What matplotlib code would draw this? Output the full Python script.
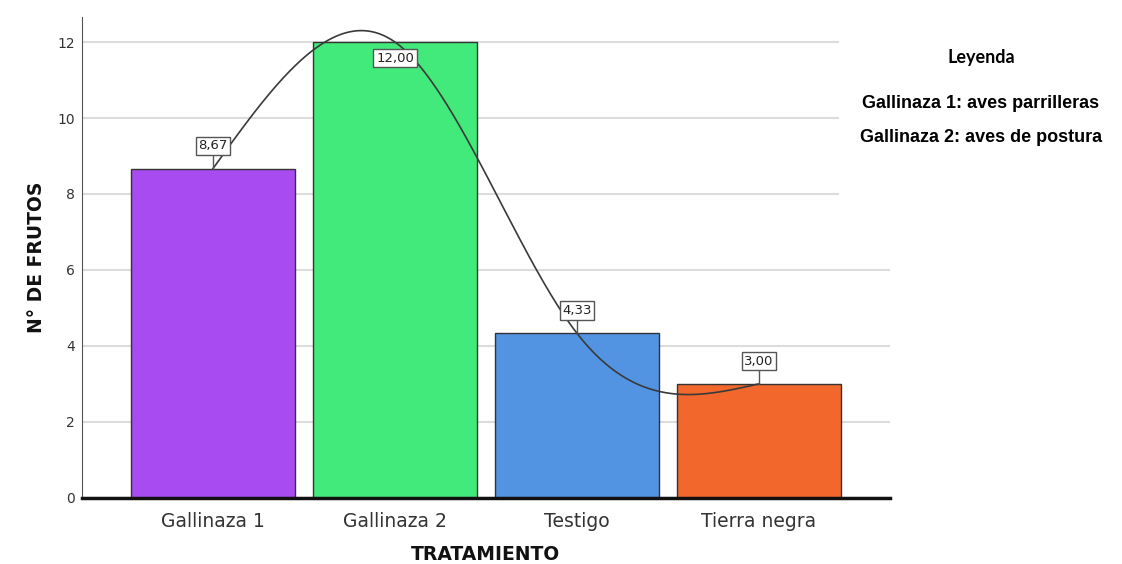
import matplotlib
matplotlib.use('Agg')
import matplotlib.pyplot as plt
from matplotlib.patches import Rectangle
import numpy as np

# ---- data ----
categories = ['Gallinaza 1', 'Gallinaza 2', 'Testigo', 'Tierra negra']
frutos     = [8.67, 12.00, 4.33, 3.00]
bar_colors = ['#A84BF0', '#42EA7C', '#5294E2', '#F2682C']
y_ticks    = [0, 2, 4, 6, 8, 10, 12]
legend_lines = ['Gallinaza 1: aves parrilleras', 'Gallinaza 2: aves de postura']


def natural_spline(x, y, n=300):
    """Natural cubic spline through (x, y), equally spaced x."""
    x = np.asarray(x, float); y = np.asarray(y, float)
    h = x[1] - x[0]
    k = len(x)
    A = np.zeros((k, k)); b = np.zeros(k)
    A[0, 0] = A[-1, -1] = 1
    for i in range(1, k - 1):
        A[i, i - 1:i + 2] = [1, 4, 1]
        b[i] = 6 * (y[i - 1] - 2 * y[i] + y[i + 1]) / h**2
    M = np.linalg.solve(A, b)
    xs = np.linspace(x[0], x[-1], n)
    idx = np.clip(((xs - x[0]) // h).astype(int), 0, k - 2)
    t = (xs - x[idx]) / h
    ys = ((1 - t) * y[idx] + t * y[idx + 1]
          + ((1 - t)**3 - (1 - t)) * M[idx] * h**2 / 6
          + (t**3 - t) * M[idx + 1] * h**2 / 6)
    return xs, ys


fig = plt.figure(figsize=(11.22, 5.64), dpi=100)
ax = fig.add_axes([0.0731, 0.1175, 0.7201, 0.853])

x = np.arange(len(categories))
ax.bar(x, frutos, width=0.9, color=bar_colors, edgecolor='#333333', lw=1.0, zorder=2)

xs, ys = natural_spline(x, frutos)
ax.plot(xs, ys, color='#3a3a3a', lw=1.2, zorder=4)

# value labels in boxes
for xi, v in zip(x, frutos):
    s = f'{v:.2f}'.replace('.', ',')
    if v >= 11.5:
        ty = v - 0.42
    else:
        ty = v + 0.6
        ax.plot([xi, xi], [v, ty - 0.25], color='#555555', lw=1.0, zorder=5)
    ax.text(xi, ty, s, ha='center', va='center', fontsize=9.5, color='#222222',
            zorder=6, bbox=dict(boxstyle='square,pad=0.2', fc='white', ec='#555555', lw=1.0))

ax.set_xlim(-0.72, 3.72)
ax.set_ylim(0, 12.67)
ax.set_yticks(y_ticks)
ax.set_yticklabels([str(t) for t in y_ticks], fontsize=10, color='#333333')
ax.set_xticks(x)
ax.set_xticklabels(categories, fontsize=13.5, color='#333333')
ax.tick_params(axis='x', length=0, pad=10)
ax.tick_params(axis='y', length=0, pad=5)
ax.grid(True, axis='y', color='#dcdcdc', lw=1.5, zorder=0)
ax.set_axisbelow(True)
for sp in ['top', 'right']:
    ax.spines[sp].set_visible(False)
ax.spines['left'].set_color('#555555')
ax.spines['bottom'].set_color('#111111')
ax.spines['bottom'].set_linewidth(2.5)
ax.spines['bottom'].set_zorder(5)

ax.set_xlabel('TRATAMIENTO', fontsize=13.5, fontweight='bold', color='#111111', labelpad=10)
ax.set_ylabel('N° DE FRUTOS', fontsize=13.5, fontweight='bold', color='#111111', labelpad=8)

# legend box (covers grid on the right top)
fig.patches.append(Rectangle((839 / 1122, 1 - 232 / 564), 1, 1, transform=fig.transFigure,
                             fc='white', ec='none', zorder=3))
fig.text(981 / 1122, 1 - 57 / 564, 'Leyenda', ha='center', va='center',
         fontsize=13, fontweight='bold', family='Lato', zorder=4)
for i, line in enumerate(legend_lines):
    fig.text(981 / 1122, 1 - (104 + 33 * i) / 564, line, ha='center', va='center',
             fontsize=13, fontweight='bold', family='Liberation Sans', zorder=4)

fig.savefig('out.png', dpi=100)
